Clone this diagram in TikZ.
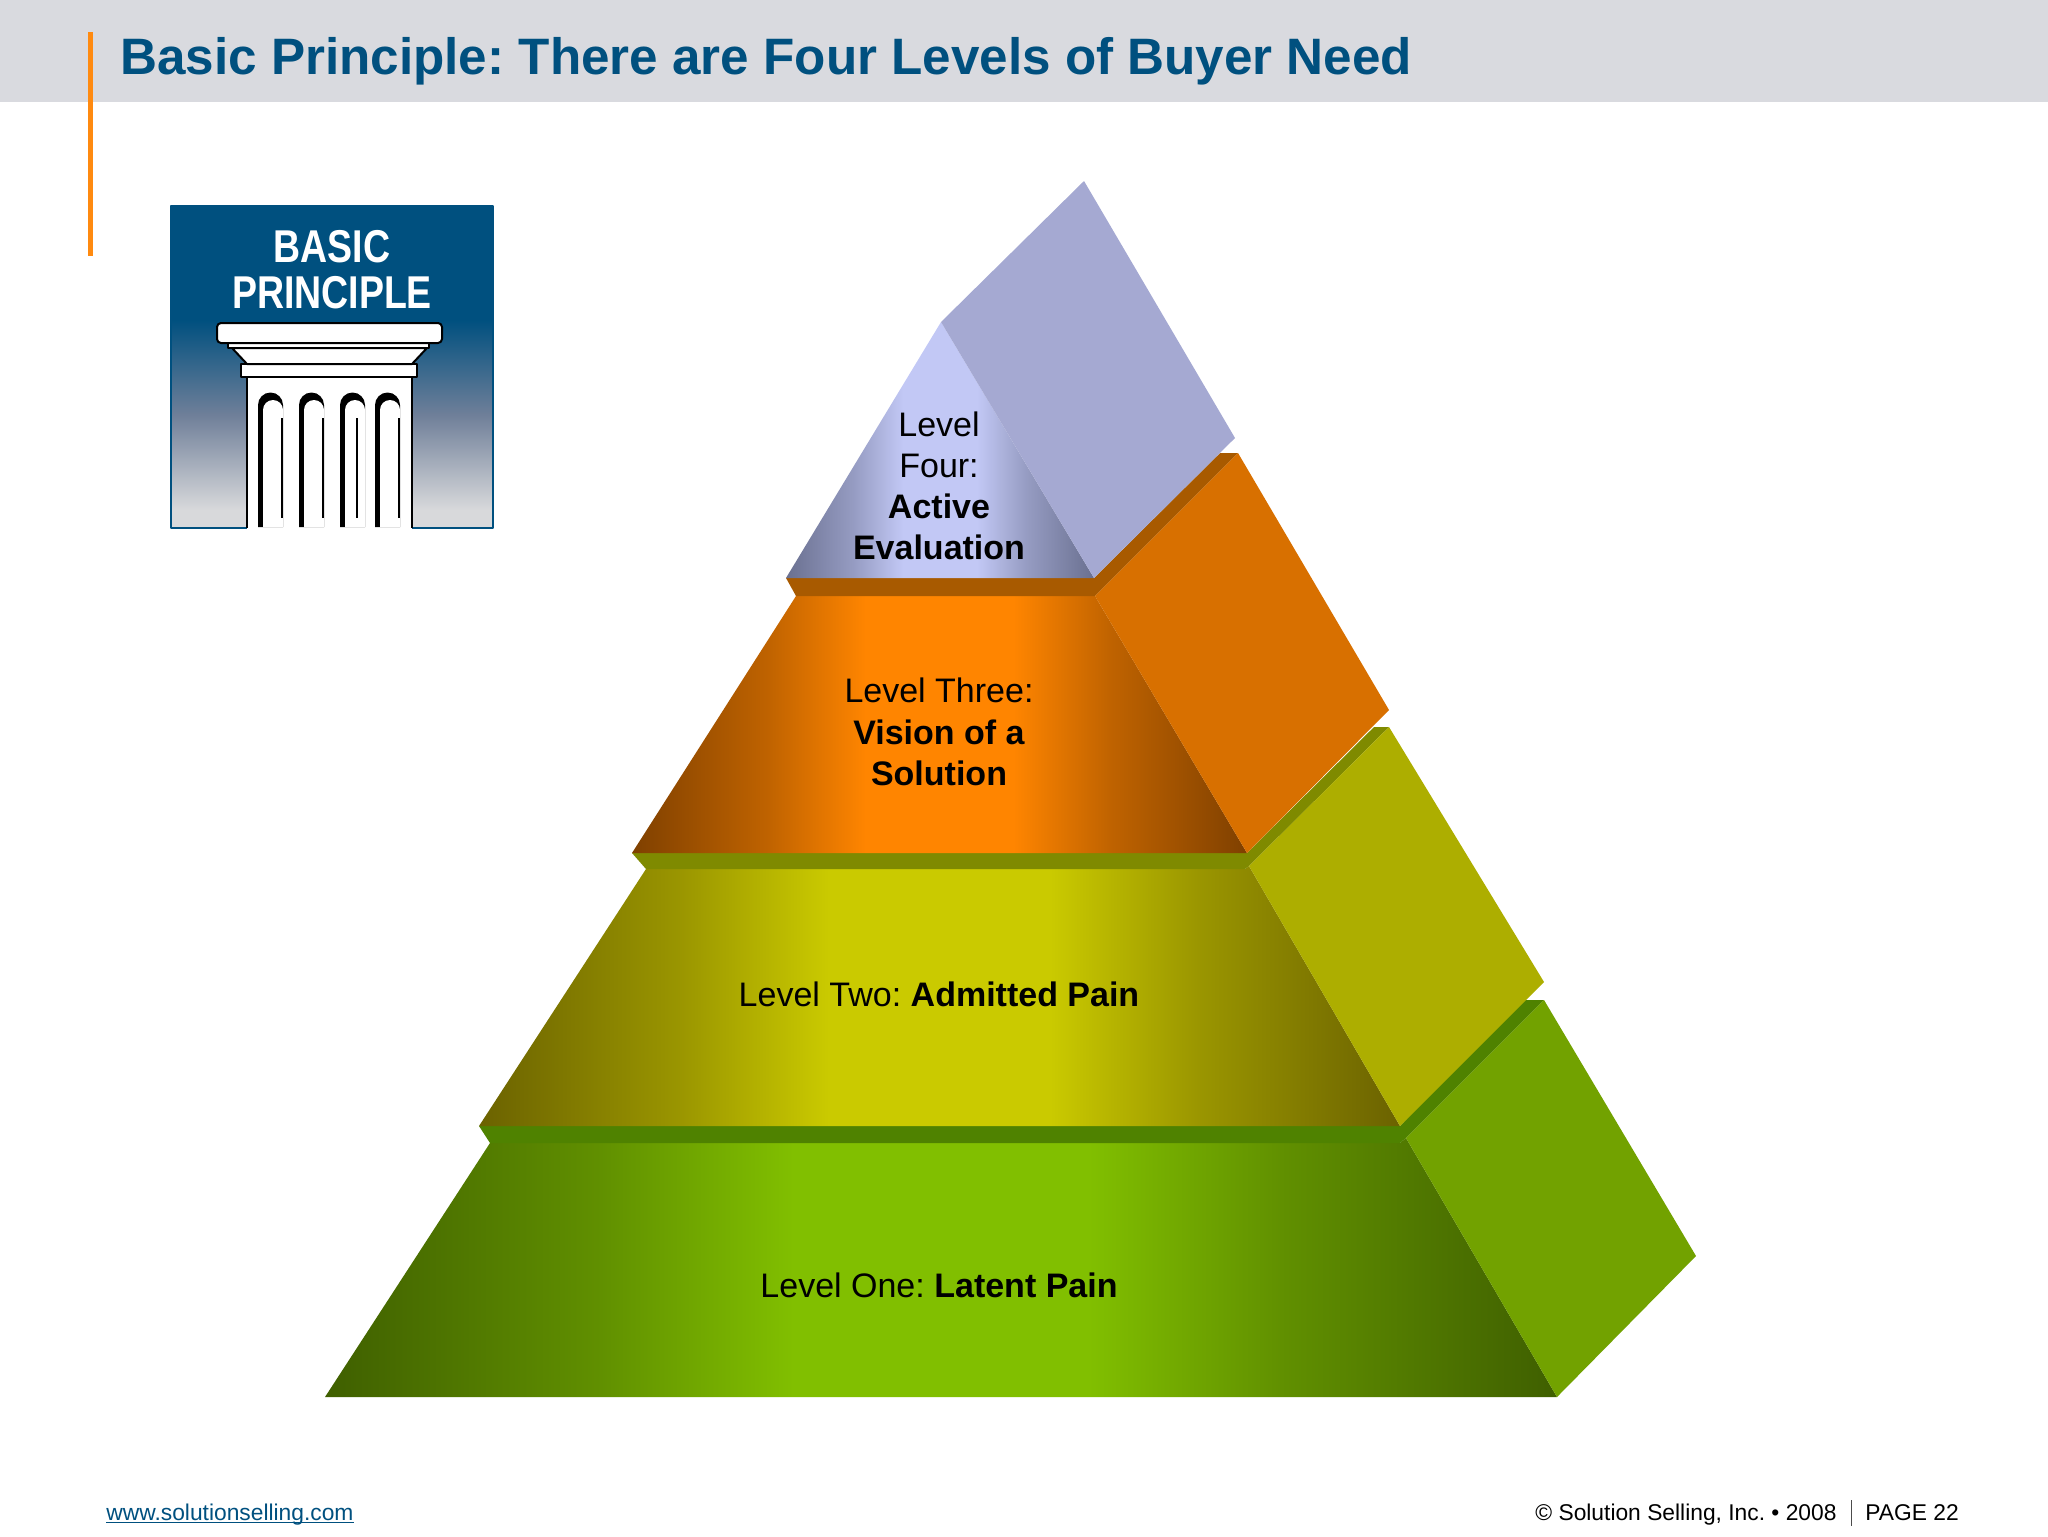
\documentclass[tikz,border=0pt]{standalone}
\usepackage{fontspec}
\setmainfont{Liberation Sans}
\frenchspacing
\definecolor{headgray}{HTML}{D9DADF}
\definecolor{barorange}{HTML}{FF8A10}
\definecolor{titleblue}{HTML}{00507F}
\definecolor{logomid}{HTML}{6F7F99}
\definecolor{logogray}{HTML}{D8D9DB}
\definecolor{oneedge}{HTML}{3F5F00}
\definecolor{onemid}{HTML}{81BF00}
\definecolor{oneside}{HTML}{72A200}
\definecolor{oneband}{HTML}{4F8200}
\definecolor{twoedge}{HTML}{6B6200}
\definecolor{twomid}{HTML}{CACA00}
\definecolor{twoside}{HTML}{ADAE00}
\definecolor{twoband}{HTML}{7F8A00}
\definecolor{threeedge}{HTML}{7F4000}
\definecolor{threemid}{HTML}{FF8500}
\definecolor{threeside}{HTML}{D87000}
\definecolor{threeband}{HTML}{A85A00}
\definecolor{fouredge}{HTML}{6A7090}
\definecolor{fourmid}{HTML}{C2C8F5}
\definecolor{fourside}{HTML}{A5A9D2}
\newcommand{\levelshade}[3]{\pgfdeclarehorizontalshading{#1}{100bp}{color(0bp)=(#2);color(25bp)=(#2);color(36bp)=(#2!50!#3);color(44bp)=(#3);color(56bp)=(#3);color(64bp)=(#2!50!#3);color(75bp)=(#2);color(100bp)=(#2)}}
\levelshade{oneshade}{oneedge}{onemid}
\levelshade{twoshade}{twoedge}{twomid}
\levelshade{threeshade}{threeedge}{threemid}
\levelshade{fourshade}{fouredge}{fourmid}
\tikzset{
  leveltext/.style={align=center,text=black,font=\fontsize{17}{20.6}\selectfont},
  foottext/.style={anchor=base west,inner sep=0pt,font=\fontsize{11.4}{13}\selectfont},
  logotext/.style={text=white,inner sep=0pt,xscale=0.815,font=\fontsize{23}{25}\selectfont\bfseries},
  columnpart/.style={draw=black,fill=white,line width=1pt,line join=round},
}
\begin{document}
\begin{tikzpicture}[x=0.5pt,y=-0.5pt,line join=bevel,]
\useasboundingbox (0,0) rectangle (2048,1536);
%%
\fill [headgray] (0,0) rectangle (2048,102);
\fill [barorange] (88,32) rectangle (92.5,256);
\node (title) at (120,75) [anchor=base west,inner sep=0pt,text=titleblue,font=\fontsize{25.6}{30}\selectfont\bfseries] {Basic Principle: There are Four Levels of Buyer Need};
%% logo
\fill [titleblue] (171,206) rectangle (493,325);
\shade [top color=titleblue,bottom color=logogray,middle color=logomid] (171,320) rectangle (493,510);
\fill [logogray] (171,510) rectangle (493,528);
\draw [titleblue,line width=0.7pt] (171,206) rectangle (493,528);
\node (logo_1) at (332,247) [logotext] {BASIC};
\node (logo_2) at (332,293) [logotext] {PRINCIPLE};
\fill [white] (247,377) rectangle (412,530);
\draw [black,line width=1pt] (247,377) -- (247,528);
\draw [black,line width=1pt] (412,377) -- (412,528);
\foreach \fx/\lx in {258/282,299/323,340/357,375/399} {
  \fill [black] (\fx,527) -- (\fx,405) arc [start angle=180,end angle=360,radius=12.5] -- (\fx+25,527) -- cycle;
  \fill [white] (\fx+5,527) -- (\fx+5,410) arc [start angle=180,end angle=360,radius=10] -- (\fx+25,527) -- cycle;
  \draw [black,line width=1pt] (\lx,418) -- (\lx,518);
}
\draw [columnpart] (241,364) rectangle (417,377);
\draw [columnpart] (232,348) -- (427,348) -- (412,364) -- (247,364) -- cycle;
\draw [columnpart] (228,343) rectangle (429,348);
\draw [columnpart,rounded corners=2pt] (217,323) rectangle (442,343);
%% level one
\shade [shading=oneshade] (490,1143) -- (1400,1143) -- (1406,1138) -- (1557,1397) -- (325,1397) -- cycle;
\fill [oneband] (479,1126) -- (1400,1126) -- (1517,1000) -- (1544,1000) -- (1406,1138) -- (1400,1143) -- (490,1143) -- cycle;
\fill [oneside] (1406,1138) -- (1544,1000) -- (1696,1256) -- (1557,1397) -- cycle;
%% level two
\shade [shading=twoshade] (646,869) -- (1245,869) -- (1249,866) -- (1400,1126) -- (479,1126) -- cycle;
\fill [twoband] (632,853) -- (1247,853) -- (1374,727) -- (1389,727) -- (1249,866) -- (1245,869) -- (646,869) -- cycle;
\fill [twoside] (1249,866) -- (1389,727) -- (1544,982) -- (1400,1126) -- cycle;
%% level three
\shade [shading=threeshade] (796,596) -- (1095,596) -- (1247,853) -- (632,853) -- cycle;
\fill [threeband] (786,578) -- (1094,578) -- (1220,453) -- (1238,453) -- (1095,596) -- (796,596) -- cycle;
\fill [threeside] (1095,596) -- (1238,453) -- (1389,710) -- (1247,853) -- cycle;
%% level four
\shade [shading=fourshade] (941,322) -- (1094,578) -- (786,578) -- cycle;
\fill [fourside] (941,322) -- (1084,181) -- (1235,438) -- (1094,578) -- cycle;
%% labels
\node (level_4) at (939,486) [leveltext] {Level\\Four:\\\textbf{Active}\\\textbf{Evaluation}};
\node (level_3) at (939,732) [leveltext] {Level Three:\\\textbf{Vision of a}\\\textbf{Solution}};
\node (level_2) at (939,994) [leveltext] {Level Two: \textbf{Admitted Pain}};
\node (level_1) at (939,1285) [leveltext] {Level One: \textbf{Latent Pain}};
%% footer
\node (site) at (106,1520) [foottext,text=titleblue] {\underline{\smash{www.solutionselling.com}}};
\node (copyright) at (1535,1520) [foottext,text=black] {© Solution Selling, Inc. • 2008};
\draw [black!70,line width=0.5pt] (1851,1500) -- (1851,1526);
\node (page) at (1865,1520) [foottext,text=black] {PAGE 22};
%
\end{tikzpicture}
\end{document}
